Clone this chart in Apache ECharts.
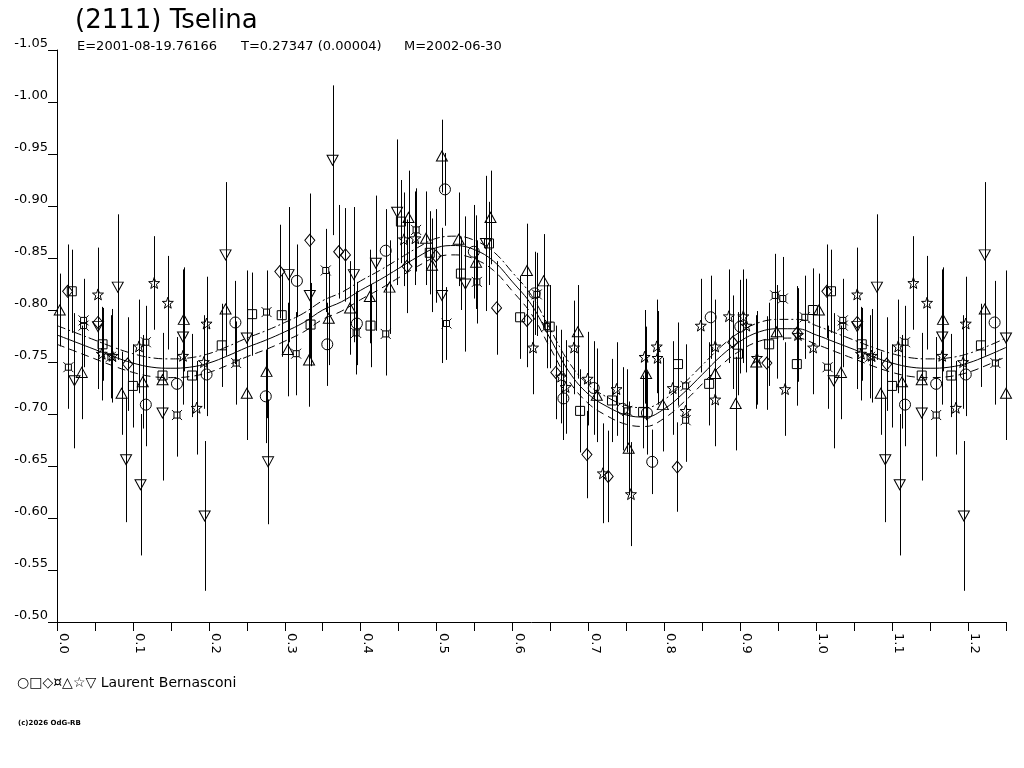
<!DOCTYPE html>
<html><head><meta charset="utf-8">
<script src="https://cdn.jsdelivr.net/npm/echarts@6/dist/echarts.min.js"></script>
<style>html,body{margin:0;padding:0;background:#fff}#c{width:1024px;height:768px}</style>
</head><body><div id="c"></div>
<script>
// ---- data: [phase, magnitude, error] per observing session ----
const circleObs = [[0.117,-0.709,0.04],[0.158,-0.729,0.045],[0.197,-0.738,0.04],[0.235,-0.788,0.04],[0.275,-0.717,0.045],[0.316,-0.828,0.035],[0.356,-0.767,0.04],[0.395,-0.787,0.04],[0.433,-0.857,0.04],[0.511,-0.916,0.035],[0.549,-0.856,0.045],[0.629,-0.816,0.04],[0.667,-0.715,0.04],[0.707,-0.725,0.045],[0.745,-0.705,0.04],[0.777,-0.701,0.04],[0.784,-0.654,0.031],[0.861,-0.793,0.04],[0.900,-0.784,0.045]];
const squareObs = [[0.0195,-0.818,0.04],[0.060,-0.767,0.035],[0.100,-0.727,0.04],[0.139,-0.737,0.035],[0.178,-0.737,0.04],[0.217,-0.766,0.04],[0.257,-0.796,0.04],[0.296,-0.795,0.04],[0.334,-0.786,0.04],[0.413,-0.785,0.04],[0.453,-0.885,0.04],[0.491,-0.855,0.04],[0.532,-0.835,0.035],[0.569,-0.864,0.04],[0.610,-0.793,0.04],[0.649,-0.784,0.04],[0.689,-0.703,0.04],[0.731,-0.713,0.04],[0.772,-0.702,0.035],[0.818,-0.748,0.04],[0.859,-0.729,0.04],[0.897,-0.758,0.04],[0.938,-0.767,0.04],[0.9745,-0.748,0.04],[0.9956,-0.800,0.04]];
const diamondObs = [[0.014,-0.818,0.045],[0.054,-0.788,0.04],[0.093,-0.748,0.045],[0.2935,-0.837,0.045],[0.333,-0.867,0.045],[0.371,-0.856,0.045],[0.380,-0.853,0.045],[0.461,-0.842,0.045],[0.499,-0.852,0.045],[0.579,-0.802,0.045],[0.619,-0.790,0.045],[0.657,-0.740,0.045],[0.698,-0.661,0.042],[0.726,-0.640,0.044],[0.817,-0.649,0.043],[0.890,-0.769,0.045],[0.935,-0.749,0.045],[0.975,-0.778,0.045]];
const crossObs = [[0.015,-0.745,0.04],[0.035,-0.790,0.04],[0.035,-0.785,0.04],[0.071,-0.755,0.04],[0.117,-0.769,0.035],[0.158,-0.699,0.04],[0.236,-0.749,0.04],[0.276,-0.798,0.04],[0.315,-0.758,0.04],[0.354,-0.838,0.04],[0.394,-0.778,0.04],[0.433,-0.777,0.04],[0.473,-0.877,0.04],[0.513,-0.787,0.035],[0.553,-0.827,0.04],[0.632,-0.815,0.04],[0.645,-0.784,0.04],[0.751,-0.703,0.04],[0.828,-0.727,0.04],[0.828,-0.694,0.04],[0.946,-0.814,0.04],[0.956,-0.811,0.04],[0.985,-0.793,0.04]];
const triUpObs = [[0.0036,-0.800,0.035],[0.0326,-0.740,0.045],[0.085,-0.720,0.04],[0.113,-0.731,0.045],[0.139,-0.733,0.045],[0.167,-0.791,0.05],[0.222,-0.801,0.045],[0.250,-0.720,0.045],[0.276,-0.741,0.045],[0.304,-0.762,0.045],[0.332,-0.752,0.045],[0.358,-0.792,0.045],[0.386,-0.802,0.045],[0.412,-0.813,0.045],[0.438,-0.822,0.045],[0.463,-0.889,0.045],[0.486,-0.869,0.045],[0.494,-0.843,0.045],[0.507,-0.948,0.035],[0.529,-0.868,0.045],[0.552,-0.846,0.045],[0.571,-0.889,0.045],[0.619,-0.838,0.045],[0.641,-0.828,0.045],[0.686,-0.779,0.045],[0.711,-0.718,0.045],[0.753,-0.667,0.045],[0.776,-0.739,0.045],[0.798,-0.709,0.045],[0.867,-0.739,0.045],[0.894,-0.710,0.045],[0.921,-0.750,0.045],[0.948,-0.779,0.045]];
const starObs = [[0.054,-0.815,0.045],[0.059,-0.758,0.045],[0.073,-0.756,0.045],[0.108,-0.765,0.045],[0.128,-0.826,0.045],[0.146,-0.807,0.045],[0.166,-0.756,0.045],[0.184,-0.706,0.045],[0.1935,-0.750,0.045],[0.197,-0.787,0.045],[0.457,-0.868,0.045],[0.472,-0.869,0.045],[0.627,-0.764,0.045],[0.664,-0.736,0.045],[0.670,-0.726,0.045],[0.681,-0.764,0.045],[0.699,-0.734,0.045],[0.719,-0.643,0.048],[0.737,-0.724,0.045],[0.756,-0.623,0.05],[0.774,-0.755,0.045],[0.790,-0.765,0.045],[0.791,-0.754,0.045],[0.811,-0.725,0.045],[0.828,-0.703,0.045],[0.848,-0.785,0.045],[0.867,-0.765,0.045],[0.867,-0.714,0.045],[0.885,-0.794,0.045],[0.904,-0.794,0.045],[0.908,-0.785,0.045],[0.922,-0.754,0.045],[0.959,-0.724,0.045],[0.976,-0.776,0.045],[0.996,-0.764,0.045]];
const triDownObs = [[0.023,-0.732,0.065],[0.054,-0.784,0.06],[0.080,-0.822,0.07],[0.091,-0.656,0.06],[0.110,-0.632,0.068],[0.139,-0.701,0.065],[0.166,-0.774,0.065],[0.1945,-0.602,0.072],[0.222,-0.853,0.07],[0.250,-0.773,0.065],[0.278,-0.654,0.06],[0.305,-0.834,0.065],[0.333,-0.814,0.06],[0.363,-0.944,0.072],[0.391,-0.834,0.065],[0.420,-0.845,0.065],[0.448,-0.894,0.07],[0.507,-0.814,0.065],[0.538,-0.825,0.065],[0.565,-0.864,0.065]];

// fitted curve and its uncertainty envelope
const curvePhase = [0,0.025,0.05,0.075,0.1,0.125,0.15,0.175,0.2,0.225,0.25,0.275,0.3,0.325,0.35,0.375,0.4,0.425,0.45,0.475,0.5,0.525,0.55,0.575,0.6,0.625,0.65,0.675,0.7,0.725,0.75,0.775,0.8,0.825,0.85,0.875,0.9,0.925,0.95,0.975,1.0];
const curveMag = [-0.776,-0.769,-0.762,-0.755,-0.749,-0.745,-0.744,-0.745,-0.749,-0.756,-0.764,-0.771,-0.779,-0.788,-0.800,-0.808,-0.819,-0.829,-0.840,-0.851,-0.860,-0.862,-0.858,-0.847,-0.827,-0.805,-0.772,-0.740,-0.719,-0.707,-0.699,-0.697,-0.705,-0.720,-0.738,-0.756,-0.770,-0.779,-0.782,-0.782,-0.776];
const curveUpper = [-0.785,-0.778,-0.771,-0.764,-0.758,-0.754,-0.753,-0.754,-0.758,-0.765,-0.773,-0.780,-0.788,-0.797,-0.809,-0.817,-0.828,-0.838,-0.849,-0.860,-0.869,-0.871,-0.867,-0.856,-0.836,-0.814,-0.781,-0.749,-0.728,-0.716,-0.708,-0.706,-0.714,-0.729,-0.747,-0.765,-0.779,-0.788,-0.791,-0.791,-0.785];
const curveLower = [-0.767,-0.760,-0.753,-0.746,-0.740,-0.736,-0.735,-0.736,-0.740,-0.747,-0.755,-0.762,-0.770,-0.779,-0.791,-0.799,-0.810,-0.820,-0.831,-0.842,-0.851,-0.853,-0.849,-0.838,-0.818,-0.796,-0.763,-0.731,-0.710,-0.698,-0.690,-0.688,-0.696,-0.711,-0.729,-0.747,-0.761,-0.770,-0.773,-0.773,-0.767];

const xTicks = {min:0, max:1.25, step:0.05};
const yTicks = {min:-1.05, max:-0.50, step:0.05};

// ---- build ----
function wrapPts(arr){const o=[];arr.forEach(d=>{o.push(d);if(d[0]+1<=xTicks.max)o.push([d[0]+1,d[1],d[2]]);});return o;}
function wrapCurve(mags){const o=[];curvePhase.forEach((p,i)=>o.push([p,mags[i]]));curvePhase.forEach((p,i)=>{if(p>0&&p<=0.25+1e-9)o.push([p+1,mags[i]]);});return o;}

const STAR='path://M50,0 L61.76,33.82 L97.55,34.55 L69.02,56.18 L79.39,90.45 L50,70 L20.61,90.45 L30.98,56.18 L2.45,34.55 L38.24,33.82 Z';
const CROSS='path://M20,20 L80,20 L80,80 L20,80 Z M0,0 L20,20 M100,0 L80,20 M0,100 L20,80 M100,100 L80,80';

const sessions=[
 {d:circleObs,sym:'circle',size:11},
 {d:squareObs,sym:'rect',size:9},
 {d:diamondObs,sym:'diamond',size:[10,12]},
 {d:crossObs,sym:CROSS,size:10},
 {d:triUpObs,sym:'triangle',size:[11,10]},
 {d:starObs,sym:STAR,size:11},
 {d:triDownObs,sym:'triangle',size:[11,10],rot:180}
];

const series=[];
const allPts=[];
sessions.forEach(s=>wrapPts(s.d).forEach(p=>allPts.push(p)));
series.push({type:'custom',data:allPts,encode:{x:0,y:1},silent:true,z:2,
 renderItem:function(params,api){
  const x=api.value(0),y=api.value(1),e=api.value(2);
  const a=api.coord([x,y-e]),b=api.coord([x,y+e]);
  const xx=Math.round(a[0])+0.5;
  return {type:'line',shape:{x1:xx,y1:a[1],x2:xx,y2:b[1]},style:{stroke:'#000',lineWidth:1}};
 }});
sessions.forEach(s=>{
 series.push({type:'scatter',data:wrapPts(s.d).map(p=>[p[0],p[1]]),symbol:s.sym,symbolSize:s.size,symbolRotate:s.rot||0,z:3,
  itemStyle:{color:'rgba(0,0,0,0)',borderColor:'#000',borderWidth:1,opacity:1},silent:true});
});
series.push({type:'line',data:wrapCurve(curveMag),showSymbol:false,symbol:'none',smooth:0.4,lineStyle:{color:'#000',width:1},z:4,silent:true});
series.push({type:'line',data:wrapCurve(curveUpper),showSymbol:false,symbol:'none',smooth:0.4,lineStyle:{color:'#000',width:1,type:[9,3,2,3]},z:4,silent:true});
series.push({type:'line',data:wrapCurve(curveLower),showSymbol:false,symbol:'none',smooth:0.4,lineStyle:{color:'#000',width:1,type:[8,5]},z:4,silent:true});

const FONT='"DejaVu Sans", "Liberation Sans", Arial, sans-serif';
const chart=echarts.init(document.getElementById('c'),null,{renderer:'canvas'});
chart.setOption({
 animation:false,
 backgroundColor:'#fff',
 grid:{left:57,top:50,right:18,bottom:146,containLabel:false},
 xAxis:{type:'value',min:xTicks.min,max:xTicks.max,interval:xTicks.step,
  axisLine:{show:true,onZero:false,lineStyle:{color:'#000',width:1}},
  axisTick:{show:true,inside:false,length:9,lineStyle:{color:'#000'}},
  splitLine:{show:false},
  axisLabel:{rotate:-90,margin:11,verticalAlign:'bottom',color:'#000',fontFamily:FONT,fontSize:13,
   formatter:v=>{const k=Math.round(v*100);return k%10===0?(k/100).toFixed(1):'';}}},
 yAxis:{type:'value',inverse:true,min:yTicks.min,max:yTicks.max,interval:yTicks.step,
  axisLine:{show:true,onZero:false,lineStyle:{color:'#000',width:1}},
  axisTick:{show:true,inside:false,length:9,lineStyle:{color:'#000'}},
  splitLine:{show:false},
  axisLabel:{margin:9,verticalAlign:'bottom',color:'#000',fontFamily:FONT,fontSize:13,formatter:v=>v.toFixed(2)}},
 graphic:[
  {type:'text',left:75,top:8,style:{text:'(2111) Tselina',font:'26px '+FONT,fill:'#000'}},
  {type:'text',left:77,top:40,style:{text:'E=2001-08-19.76166',font:'13px '+FONT,fill:'#000'}},
  {type:'text',left:241,top:40,style:{text:'T=0.27347 (0.00004)',font:'13px '+FONT,fill:'#000'}},
  {type:'text',left:404,top:40,style:{text:'M=2002-06-30',font:'13px '+FONT,fill:'#000'}},
  {type:'text',left:17,top:676,style:{text:'○□◇¤△☆▽ Laurent Bernasconi',font:'14px '+FONT,fill:'#000'}},
  {type:'text',left:18,top:720,style:{text:'(c)2026 OdG-RB',font:'bold 7px '+FONT,fill:'#000'}}
 ],
 series:series
});
</script></body></html>
